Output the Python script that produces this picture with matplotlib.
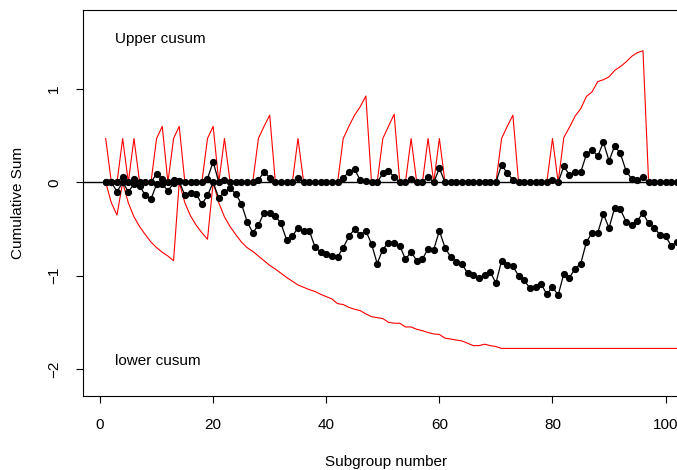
import matplotlib
matplotlib.use("Agg")
import matplotlib.pyplot as plt
import numpy as np

plt.rcParams['font.family'] = ['Liberation Sans', 'DejaVu Sans']

subgroup = list(range(1, 103))

upper_cusum = [0, 0, 0, 0.06, 0, 0.04, 0, 0, 0, 0.09,
               0.04, 0, 0.02, 0.01, 0, 0, 0, 0, 0.04, 0.22,
               0, 0.025, 0, 0, 0, 0, 0, 0.025, 0.11, 0.05,
               0, 0, 0, 0, 0.05, 0, 0, 0, 0, 0,
               0, 0, 0.05, 0.11, 0.14, 0.025, 0.018, 0, 0, 0.096,
               0.12, 0.06, 0, 0, 0.036, 0, 0, 0.06, 0, 0.15,
               0, 0, 0, 0, 0, 0, 0, 0, 0, 0,
               0.19, 0.096, 0.03, 0, 0, 0, 0, 0, 0, 0.025,
               0, 0.17, 0.08, 0.11, 0.11, 0.30, 0.35, 0.28, 0.43, 0.23,
               0.39, 0.31, 0.125, 0.036, 0.025, 0.054, 0, 0, 0, 0,
               0, 0]

lower_cusum = [0, 0, -0.10, 0.0, -0.10, -0.02, -0.036, -0.14, -0.18, -0.02,
               -0.02, -0.09, -0.01, 0.01, -0.14, -0.11, -0.125, -0.235, -0.14, 0.0,
               -0.17, -0.10, -0.064, -0.125, -0.23, -0.42, -0.54, -0.46, -0.325, -0.325,
               -0.36, -0.44, -0.62, -0.58, -0.485, -0.52, -0.52, -0.69, -0.75, -0.764,
               -0.79, -0.80, -0.70, -0.58, -0.50, -0.56, -0.52, -0.66, -0.87, -0.72,
               -0.645, -0.645, -0.68, -0.825, -0.745, -0.84, -0.825, -0.71, -0.72, -0.52,
               -0.70, -0.80, -0.85, -0.875, -0.975, -0.99, -1.03, -0.99, -0.96, -1.08,
               -0.84, -0.885, -0.90, -1.00, -1.05, -1.135, -1.12, -1.09, -1.20, -1.12,
               -1.21, -0.98, -1.02, -0.925, -0.87, -0.64, -0.54, -0.54, -0.34, -0.49,
               -0.27, -0.29, -0.42, -0.46, -0.41, -0.33, -0.44, -0.49, -0.56, -0.58,
               -0.68, -0.64]

upper_limit = [0.47, 0, 0, 0.47, 0, 0.47, 0, 0, 0, 0.47,
               0.60, 0, 0.47, 0.60, 0, 0, 0, 0, 0.47, 0.60,
               0, 0.47, 0, 0, 0, 0, 0, 0.47, 0.60, 0.72,
               0, 0, 0, 0, 0.47, 0, 0, 0, 0, 0,
               0, 0, 0.47, 0.60, 0.72, 0.81, 0.925, 0, 0, 0.47,
               0.60, 0.73, 0, 0, 0.47, 0, 0, 0.47, 0, 0.47,
               0, 0, 0, 0, 0, 0, 0, 0, 0, 0,
               0.47, 0.60, 0.72, 0, 0, 0, 0, 0, 0, 0.47,
               0, 0.48, 0.59, 0.71, 0.79, 0.92, 0.97, 1.08, 1.10, 1.13,
               1.20, 1.24, 1.29, 1.35, 1.39, 1.41, 0, 0, 0, 0,
               0, 0]

lower_limit = [0, -0.22, -0.35, 0, -0.22, -0.37, -0.475, -0.56, -0.64, -0.70,
               -0.75, -0.79, -0.84, 0, -0.22, -0.36, -0.46, -0.54, -0.61, 0,
               -0.22, -0.37, -0.475, -0.56, -0.64, -0.70, -0.74, -0.79, -0.84, -0.89,
               -0.93, -0.975, -1.02, -1.06, -1.10, -1.125, -1.15, -1.17, -1.20, -1.225,
               -1.25, -1.30, -1.31, -1.34, -1.36, -1.375, -1.41, -1.44, -1.45, -1.46,
               -1.50, -1.51, -1.51, -1.55, -1.55, -1.575, -1.59, -1.61, -1.625, -1.63,
               -1.67, -1.68, -1.69, -1.70, -1.725, -1.75, -1.75, -1.735, -1.75, -1.76,
               -1.78, -1.78, -1.78, -1.78, -1.78, -1.78, -1.78, -1.78, -1.78, -1.78,
               -1.78, -1.78, -1.78, -1.78, -1.78, -1.78, -1.78, -1.78, -1.78, -1.78,
               -1.78, -1.78, -1.78, -1.78, -1.78, -1.78, -1.78, -1.78, -1.78, -1.78,
               -1.78, -1.78]

x_ticks = [0, 20, 40, 60, 80, 100]
y_ticks = [-2, -1, 0, 1]

W, H = 677, 470
fig = plt.figure(figsize=(W / 100, H / 100), dpi=100)
left_px, right_px, top_px, bottom_px = 83.3, 688.0, 10.0, 396.0
ax = fig.add_axes([left_px / W, 1 - bottom_px / H,
                   (right_px - left_px) / W, (bottom_px - top_px) / H])

ax.plot(subgroup, upper_limit, color='red', lw=0.8, zorder=2)
ax.plot(subgroup, lower_limit, color='red', lw=0.8, zorder=2)
ax.axhline(0, color='black', lw=1.0, zorder=3)
ax.plot(subgroup, upper_cusum, color='black', lw=0.9, marker='o',
        markersize=4.2, zorder=4)
ax.plot(subgroup, lower_cusum, color='black', lw=0.9, marker='o',
        markersize=4.2, zorder=4)

ax.set_xlim(-2.96, 103.96)
ax.set_ylim(-2.29, 1.847)

ax.set_xticks(x_ticks)
ax.set_yticks(y_ticks)
ax.set_yticklabels([str(v).replace('-', '\u2212') for v in y_ticks],
                   rotation=90, va='center')
ax.tick_params(axis='both', direction='out', length=5, width=0.8,
               labelsize=11, pad=11)

for s in ax.spines.values():
    s.set_linewidth(0.8)

ax.text(2.6, 1.536, 'Upper cusum', fontsize=11, ha='left', va='center')
ax.text(2.6, -1.916, 'lower cusum', fontsize=11, ha='left', va='center')

ax.set_xlabel('Subgroup number', fontsize=11, va='center', ha='center')
ax.xaxis.set_label_coords(0.5, (bottom_px - 462) / (bottom_px - top_px))
ax.set_ylabel('Cumulative Sum', fontsize=11, va='center', ha='center')
ax.yaxis.set_label_coords((18 - left_px) / (right_px - left_px), 0.5)

fig.savefig('out.png', dpi=100)
